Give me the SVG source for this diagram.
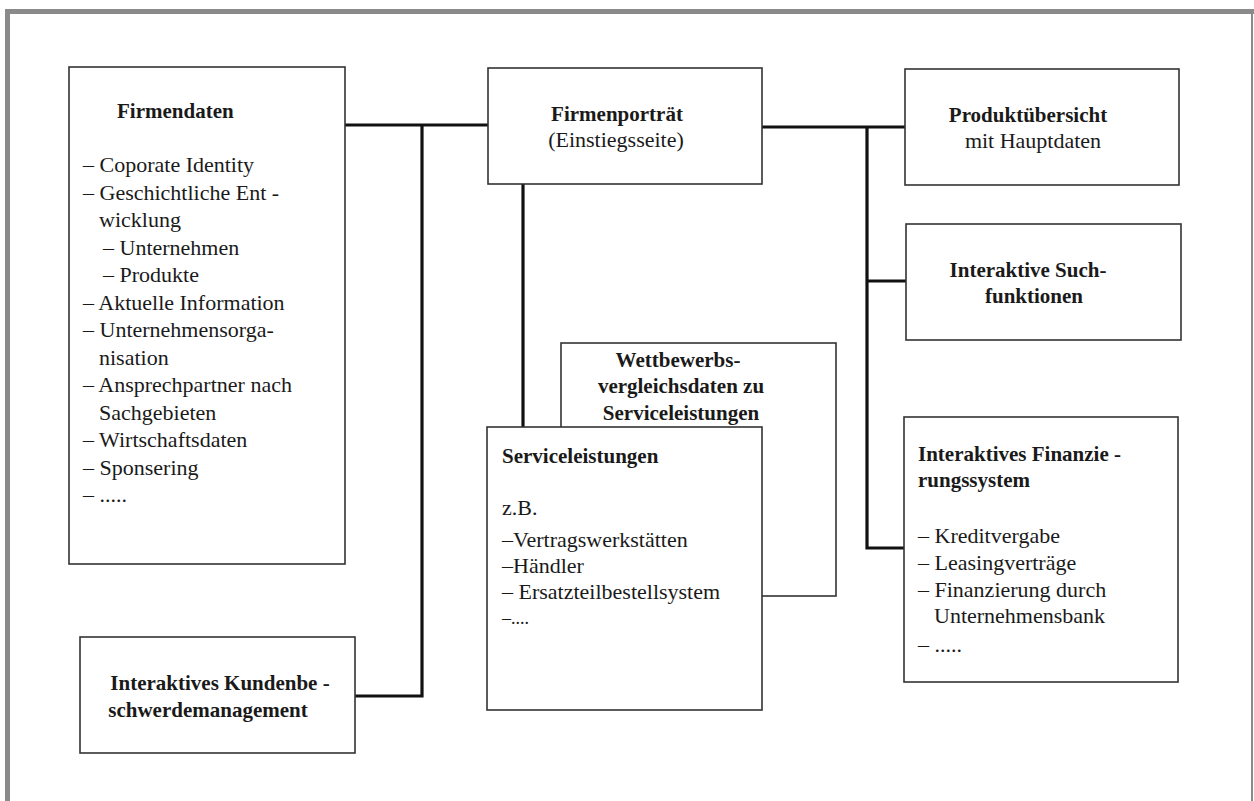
<svg xmlns="http://www.w3.org/2000/svg" width="1254" height="801" viewBox="0 0 1254 801">
<style>
.box{fill:#fff;stroke:#333;stroke-width:1.6}
.con{fill:none;stroke:#111;stroke-width:3.2}
text{font-family:"Liberation Serif","DejaVu Serif",serif;font-size:22px;fill:#1a1a1a}
.b{font-weight:bold;font-size:21px}
.m{text-anchor:middle}
.frame{fill:#8a8a8a}
</style>
<rect width="1254" height="801" fill="#fff"/>
<g id="frame">
<rect class="frame" x="5" y="9" width="1249" height="5"/>
<rect class="frame" x="5" y="9" width="5" height="792"/>
<rect class="frame" x="1251" y="14" width="2" height="787"/>
</g>
<g id="connectors">
<polyline class="con" points="345,125 488,125"/>
<polyline class="con" points="422,125 422,696 355,696"/>
<polyline class="con" points="523,184 523,427"/>
<polyline class="con" points="762,127 905,127"/>
<polyline class="con" points="867,127 867,548 904,548"/>
<polyline class="con" points="867,281 906,281"/>
</g>
<g id="firmendaten">
<rect class="box" x="69" y="67" width="276" height="497"/>
<text class="b" x="117" y="118">Firmendaten</text>
<text x="83" y="172">– Coporate Identity</text>
<text x="83" y="199.5">– Geschichtliche Ent -</text>
<text x="99" y="227">wicklung</text>
<text x="103" y="254.5">– Unternehmen</text>
<text x="103" y="282">– Produkte</text>
<text x="83" y="309.5">– Aktuelle Information</text>
<text x="83" y="337">– Unternehmensorga-</text>
<text x="99" y="364.5">nisation</text>
<text x="83" y="392">– Ansprechpartner nach</text>
<text x="99" y="419.5">Sachgebieten</text>
<text x="83" y="447">– Wirtschaftsdaten</text>
<text x="83" y="474.5">– Sponsering</text>
<text x="83" y="502">– .....</text>
</g>
<g id="firmenportraet">
<rect class="box" x="488" y="68" width="274" height="116"/>
<text class="b m" x="617" y="121">Firmenporträt</text>
<text class="m" x="616" y="147">(Einstiegsseite)</text>
</g>
<g id="produktuebersicht">
<rect class="box" x="905" y="69" width="274" height="116"/>
<text class="b m" x="1028" y="122">Produktübersicht</text>
<text class="m" x="1033" y="148">mit Hauptdaten</text>
</g>
<g id="suchfunktionen">
<rect class="box" x="906" y="224" width="275" height="116"/>
<text class="b m" x="1028" y="277">Interaktive Such-</text>
<text class="b m" x="1034" y="303">funktionen</text>
</g>
<g id="finanzierung">
<rect class="box" x="904" y="417" width="274" height="265"/>
<text class="b" x="918" y="461">Interaktives  Finanzie -</text>
<text class="b" x="918" y="487">rungssystem</text>
<text x="918" y="543">– Kreditvergabe</text>
<text x="918" y="570">– Leasingverträge</text>
<text x="918" y="597">– Finanzierung durch</text>
<text x="934" y="623">Unternehmensbank</text>
<text x="918" y="652">– .....</text>
</g>
<g id="wettbewerb">
<rect class="box" x="561" y="343" width="275" height="253"/>
<text class="b m" x="678" y="367">Wettbewerbs-</text>
<text class="b m" x="681" y="393">vergleichsdaten zu</text>
<text class="b m" x="681" y="420">Serviceleistungen</text>
</g>
<g id="serviceleistungen">
<rect class="box" x="487" y="427" width="275" height="283"/>
<text class="b" x="502" y="463">Serviceleistungen</text>
<text x="502" y="515">z.B.</text>
<text x="502" y="547">–Vertragswerkstätten</text>
<text x="502" y="573">–Händler</text>
<text x="502" y="599">– Ersatzteilbestellsystem</text>
<text x="502" y="624" style="font-size:18px">–....</text>
</g>
<g id="kundenbeschwerde">
<rect class="box" x="80" y="637" width="275" height="116"/>
<text class="b m" x="220" y="690">Interaktives Kundenbe -</text>
<text class="b m" x="208" y="717">schwerdemanagement</text>
</g>
</svg>
